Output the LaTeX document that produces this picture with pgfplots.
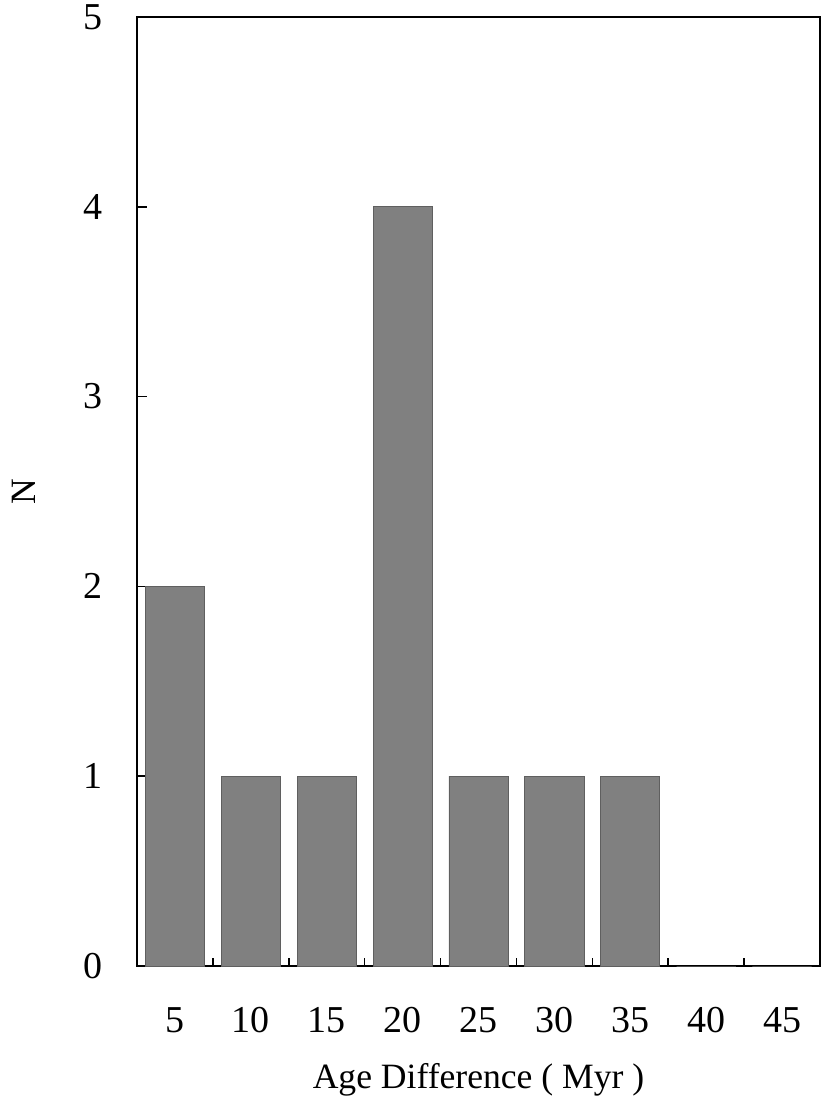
\documentclass[border=0pt]{standalone}
\usepackage{fontspec}
\setmainfont{Liberation Serif}
\usepackage{pgfplots}
\pgfplotsset{compat=1.18}
\definecolor{barfill}{RGB}{128,128,128}
\definecolor{baredge}{RGB}{95,95,95}
\begin{document}
\begin{tikzpicture}
\begin{axis}[
  width=341.5pt, height=474.5pt, scale only axis,
  xmin=-0.5, xmax=8.5, ymin=0, ymax=5,
  ybar, bar width=0.78,
  xtick={0,1,2,3,4,5,6,7,8},
  xticklabels={5,10,15,20,25,30,35,40,45},
  minor xtick={0.5,1.5,2.5,3.5,4.5,5.5,6.5,7.5},
  ytick={0,1,2,3,4,5},
  tick align=inside,
  xtick pos=bottom, ytick pos=left,
  major x tick style={draw=none},
  minor x tick style={black, line width=0.8pt},
  minor tick length=4pt,
  major tick length=5pt,
  y tick style={black, line width=0.8pt},
  axis line style={black, line width=1pt},
  /pgf/number format/assume math mode=true,
  ticklabel style={font=\fontsize{19}{22}\selectfont, inner sep=0pt},
  yticklabel style={xshift=-17pt},
  xticklabel style={anchor=base, yshift=-33pt},
  label style={font=\fontsize{17.8}{21}\selectfont, inner sep=0pt},
  xlabel={Age Difference ( Myr )},
  ylabel={N},
  xlabel style={at={(axis description cs:0.5,0)}, anchor=base, yshift=-61pt},
  ylabel style={at={(axis description cs:0,0.5)}, anchor=center, yshift=56.5pt},
]
\addplot[fill=barfill, draw=baredge, line width=0.4pt] coordinates {
  (0,2) (1,1) (2,1) (3,4) (4,1) (5,1) (6,1) (7,0) (8,0)
};
\end{axis}
\path ([shift={(-68.5pt,-67pt)}]current axis.south west) rectangle ([shift={(5pt,8.5pt)}]current axis.north east);
\end{tikzpicture}
\end{document}
